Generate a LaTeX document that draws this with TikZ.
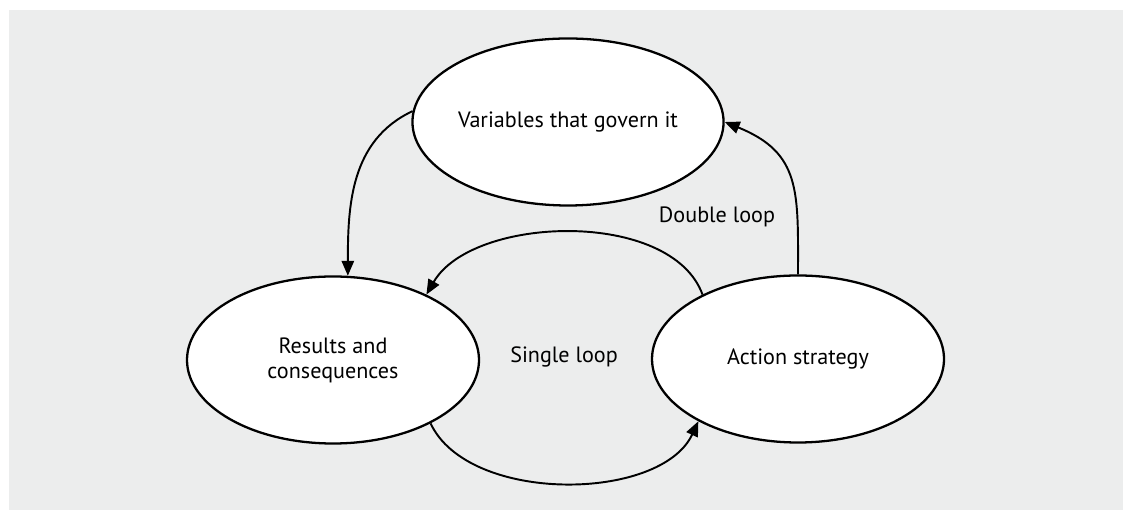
\documentclass[tikz,border=0pt]{standalone}
\usepackage{fontspec}
\setmainfont{PT Sans}
\usetikzlibrary{shapes.geometric,arrows.meta}

\definecolor{panelgray}{HTML}{ECEDED}

\tikzset{
    loopnode/.style={ellipse, draw, fill=white, line width=1.3pt, inner sep=0pt,
        minimum width=5.84cm, minimum height=3.34cm, align=center,
        font=\fontsize{12.6}{14.2}\selectfont},
    looparrow/.style={-{Triangle[length=8.5pt,width=7pt]}, line width=1.1pt},
    looplabel/.style={font=\fontsize{12.6}{14.2}\selectfont}
}

\begin{document}
\begin{tikzpicture}
        \useasboundingbox (0,0) rectangle (22.5,10.2);
        \fill[panelgray] (0.18,0) rectangle (22.46,10.0);

        \node[loopnode] (vars) at (11.36,7.76) {Variables that govern it};
        \node[loopnode] (results) at (6.66,3.0) {Results and\\consequences};
        \node[loopnode] (action) at (15.96,3.02) {Action strategy};

        \node[looplabel] (double) at (14.34,5.86) {Double loop};
        \node[looplabel] (single) at (11.28,3.06) {Single loop};

        \draw[looparrow] (vars.176) to[out=205,in=90] (results.80);
        \draw[looparrow] (action.146) to[out=110,in=60,looseness=0.85] (results.35);
        \draw[looparrow] (results.-33) to[out=-65,in=-115,looseness=0.85] (action.212);
        \draw[looparrow] (action.north) to[out=90,in=-22,looseness=1.25] (vars.east);
    \end{tikzpicture}
\end{document}
